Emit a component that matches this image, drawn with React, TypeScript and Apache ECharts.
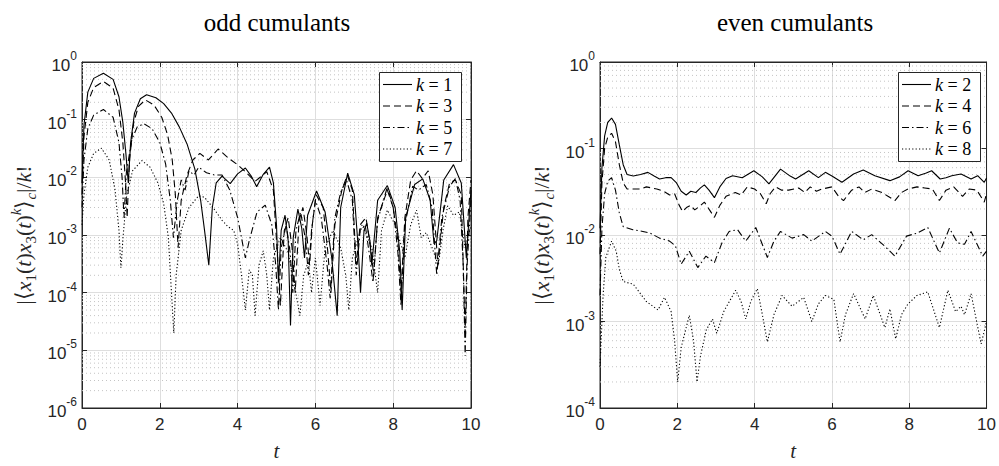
import React, { useEffect, useRef } from "react";
import * as echarts from "echarts";

const oddTitle = "odd cumulants";
const evenTitle = "even cumulants";
const oddNames = ["k = 1", "k = 3", "k = 5", "k = 7"];
const evenNames = ["k = 2", "k = 4", "k = 6", "k = 8"];
const xTicks = [0, 2, 4, 6, 8, 10];

const k1: [number, number][] = [
  [0, 0.008], [0.05, 0.08], [0.15, 0.3], [0.3, 0.52], [0.55, 0.64], [0.8, 0.5], [0.95, 0.25], [1.05, 0.09],
  [1.13, 0.025], [1.19, 0.008], [1.25, 0.04], [1.35, 0.13], [1.5, 0.23], [1.66, 0.27], [1.9, 0.24], [2.1, 0.19],
  [2.3, 0.13], [2.5, 0.075], [2.7, 0.038], [2.9, 0.014], [3.05, 0.004], [3.15, 0.0012], [3.26, 0.0003], [3.35, 0.003],
  [3.45, 0.008], [3.6, 0.0105], [3.81, 0.0078], [4.0, 0.0115], [4.2, 0.0145], [4.35, 0.0105], [4.49, 0.0069],
  [4.65, 0.011], [4.82, 0.015], [4.92, 0.008], [5.0, 0.0015], [5.05, 0.00015], [5.12, 0.0012], [5.22, 0.0022],
  [5.3, 0.0008], [5.36, 0.000027], [5.43, 0.0009], [5.55, 0.0028], [5.65, 0.0013], [5.72, 0.0004], [5.8, 0.0022],
  [6.03, 0.0058], [6.25, 0.0025], [6.42, 0.0004], [6.56, 0.00004], [6.65, 0.003], [6.83, 0.0118], [7.0, 0.005],
  [7.1, 0.0006], [7.16, 0.0001], [7.25, 0.0012], [7.32, 0.0016], [7.4, 0.0008], [7.45, 0.0003], [7.6, 0.004],
  [7.85, 0.0072], [8.05, 0.003], [8.17, 0.0005], [8.23, 0.00005], [8.32, 0.002], [8.55, 0.0075], [8.76, 0.0094],
  [8.95, 0.004], [9.05, 0.0007], [9.12, 0.0008], [9.3, 0.009], [9.55, 0.0166], [9.75, 0.008], [9.88, 0.0004],
  [9.95, 0.002], [10, 0.006],
];
const k3: [number, number][] = [
  [0, 0.005], [0.05, 0.05], [0.15, 0.2], [0.3, 0.36], [0.55, 0.46], [0.8, 0.35], [0.95, 0.15], [1.05, 0.04],
  [1.12, 0.008], [1.16, 0.002], [1.22, 0.02], [1.33, 0.09], [1.45, 0.17], [1.63, 0.22], [1.85, 0.18], [2.05, 0.11],
  [2.2, 0.055], [2.32, 0.02], [2.4, 0.005], [2.47, 0.0006], [2.55, 0.004], [2.7, 0.011], [2.85, 0.02], [3.03, 0.026],
  [3.25, 0.02], [3.5, 0.031], [3.75, 0.022], [4.0, 0.0165], [4.2, 0.0125], [4.45, 0.0085], [4.75, 0.0125],
  [4.92, 0.006], [5.0, 0.0008], [5.1, 0.00006], [5.2, 0.0012], [5.3, 0.002], [5.4, 0.0006], [5.48, 0.0001],
  [5.58, 0.0018], [5.68, 0.003], [5.78, 0.001], [5.85, 0.0003], [5.92, 0.0015], [6.02, 0.005], [6.2, 0.003],
  [6.32, 0.0005], [6.4, 0.0001], [6.5, 0.0015], [6.68, 0.006], [6.82, 0.011], [6.95, 0.006], [7.05, 0.0003],
  [7.15, 0.0015], [7.3, 0.002], [7.42, 0.0006], [7.5, 0.0002], [7.6, 0.002], [7.85, 0.006], [8.0, 0.003],
  [8.12, 0.0008], [8.2, 0.0001], [8.3, 0.002], [8.45, 0.009], [8.6, 0.013], [8.75, 0.0095], [8.9, 0.013],
  [9.02, 0.005], [9.15, 0.0003], [9.3, 0.003], [9.45, 0.008], [9.6, 0.009], [9.75, 0.005], [9.85, 0.00002],
  [9.92, 0.002], [10, 0.009],
];
const k5: [number, number][] = [
  [0, 0.003], [0.05, 0.02], [0.15, 0.07], [0.3, 0.12], [0.55, 0.15], [0.8, 0.11], [0.95, 0.04], [1.03, 0.01],
  [1.08, 0.002], [1.14, 0.012], [1.28, 0.045], [1.42, 0.075], [1.59, 0.085], [1.8, 0.07], [2.0, 0.04], [2.15, 0.017],
  [2.27, 0.004], [2.35, 0.0009], [2.45, 0.004], [2.55, 0.009], [2.65, 0.006], [2.75, 0.013], [2.88, 0.011],
  [3.0, 0.015], [3.2, 0.012], [3.4, 0.011], [3.6, 0.011], [3.8, 0.006], [4.0, 0.002], [4.2, 0.0004], [4.3, 0.0008],
  [4.5, 0.0025], [4.71, 0.0033], [4.88, 0.0015], [4.98, 0.0003], [5.05, 0.00005], [5.12, 0.0006], [5.25, 0.0015],
  [5.35, 0.0005], [5.42, 0.0001], [5.5, 0.0012], [5.62, 0.0025], [5.75, 0.0008], [5.82, 0.0002], [5.9, 0.0012],
  [6.0, 0.004], [6.15, 0.002], [6.3, 0.0003], [6.38, 0.00008], [6.5, 0.002], [6.65, 0.0055], [6.8, 0.009],
  [6.95, 0.004], [7.05, 0.0002], [7.15, 0.0012], [7.28, 0.0015], [7.4, 0.0004], [7.48, 0.00015], [7.6, 0.0018],
  [7.85, 0.0068], [8.0, 0.003], [8.12, 0.0005], [8.2, 0.00006], [8.3, 0.0015], [8.5, 0.007], [8.65, 0.006],
  [8.85, 0.0075], [9.0, 0.003], [9.12, 0.0002], [9.25, 0.002], [9.45, 0.007], [9.6, 0.0095], [9.72, 0.004],
  [9.8, 0.0003], [9.85, 0.000008], [9.9, 0.0003], [10, 0.004],
];
const k7: [number, number][] = [
  [0, 0.0015], [0.05, 0.005], [0.15, 0.015], [0.3, 0.026], [0.5, 0.032], [0.7, 0.02], [0.85, 0.006], [0.95, 0.0012],
  [1.0, 0.00027], [1.06, 0.001], [1.15, 0.005], [1.3, 0.013], [1.54, 0.0195], [1.75, 0.015], [1.95, 0.008],
  [2.1, 0.0035], [2.22, 0.0009], [2.3, 0.0001], [2.36, 0.00002], [2.42, 0.0002], [2.55, 0.0012], [2.75, 0.003],
  [3.0, 0.0048], [3.15, 0.0045], [3.4, 0.0028], [3.6, 0.0018], [3.75, 0.0014], [3.9, 0.0012], [4.0, 0.0007],
  [4.1, 0.0002], [4.2, 0.00005], [4.3, 0.00025], [4.38, 0.0002], [4.45, 0.00004], [4.55, 0.0003], [4.66, 0.00053],
  [4.75, 0.0002], [4.82, 0.00005], [4.92, 0.0004], [5.1, 0.0009], [5.3, 0.0005], [5.45, 0.00015], [5.6, 0.00004],
  [5.7, 0.0002], [5.82, 0.00035], [5.9, 0.0001], [6.0, 0.0004], [6.12, 0.00006], [6.25, 0.0006], [6.45, 0.0012],
  [6.65, 0.0006], [6.78, 0.0002], [6.86, 0.00005], [6.95, 0.0004], [7.2, 0.0015], [7.45, 0.0006], [7.6, 0.0001],
  [7.7, 0.0012], [7.85, 0.0027], [8.05, 0.0015], [8.3, 0.0004], [8.45, 0.0015], [8.6, 0.0027], [8.72, 0.0009],
  [8.85, 0.0011], [9.0, 0.0006], [9.16, 0.0003], [9.28, 0.0012], [9.4, 0.0032], [9.55, 0.0022], [9.7, 0.0025],
  [9.85, 0.0006], [10, 0.0015],
];

const k2: [number, number][] = [
  [0, 0.012], [0.05, 0.06], [0.12, 0.14], [0.2, 0.2], [0.3, 0.225], [0.4, 0.19], [0.5, 0.11], [0.6, 0.065],
  [0.7, 0.05], [0.86, 0.048], [1.05, 0.05], [1.24, 0.053], [1.4, 0.048], [1.54, 0.0445], [1.7, 0.046],
  [1.84, 0.046], [1.98, 0.04], [2.1, 0.032], [2.23, 0.029], [2.35, 0.032], [2.48, 0.031], [2.6, 0.035],
  [2.7, 0.038], [2.82, 0.033], [2.96, 0.027], [3.1, 0.036], [3.26, 0.045], [3.43, 0.0485], [3.68, 0.046],
  [3.98, 0.0553], [4.2, 0.047], [4.37, 0.039], [4.67, 0.0578], [4.92, 0.048], [5.06, 0.0444], [5.4, 0.0553],
  [5.65, 0.046], [5.83, 0.053], [6.0, 0.048], [6.26, 0.0407], [6.56, 0.0507], [6.81, 0.0563], [7.11, 0.0485],
  [7.5, 0.0425], [7.75, 0.047], [7.97, 0.0553], [8.23, 0.0485], [8.44, 0.052], [8.58, 0.0553], [8.8, 0.0444],
  [8.95, 0.046], [9.1, 0.0485], [9.34, 0.0507], [9.6, 0.0444], [9.77, 0.0485], [9.94, 0.0407], [10, 0.0455],
];
const k4: [number, number][] = [
  [0, 0.006], [0.05, 0.04], [0.12, 0.1], [0.2, 0.135], [0.3, 0.15], [0.4, 0.12], [0.5, 0.065], [0.6, 0.04],
  [0.7, 0.034], [0.86, 0.034], [1.05, 0.034], [1.2, 0.036], [1.47, 0.034], [1.65, 0.032], [1.8, 0.029],
  [1.93, 0.03], [2.05, 0.022], [2.14, 0.0187], [2.25, 0.021], [2.35, 0.022], [2.45, 0.0195], [2.55, 0.021],
  [2.7, 0.024], [2.85, 0.019], [2.96, 0.016], [3.1, 0.022], [3.26, 0.028], [3.5, 0.031], [3.65, 0.029],
  [3.81, 0.036], [4.0, 0.034], [4.15, 0.03], [4.3, 0.023], [4.4, 0.03], [4.54, 0.036], [4.7, 0.033], [4.88, 0.033],
  [5.14, 0.035], [5.3, 0.031], [5.44, 0.036], [5.6, 0.032], [5.74, 0.034], [6.0, 0.036], [6.17, 0.028],
  [6.3, 0.025], [6.51, 0.033], [6.7, 0.036], [6.85, 0.031], [7.03, 0.034], [7.3, 0.031], [7.45, 0.028],
  [7.63, 0.025], [7.8, 0.031], [7.97, 0.034], [8.2, 0.036], [8.4, 0.035], [8.6, 0.034], [8.78, 0.025],
  [8.95, 0.033], [9.15, 0.036], [9.38, 0.028], [9.55, 0.034], [9.75, 0.033], [9.94, 0.024], [10, 0.03],
];
const k6: [number, number][] = [
  [0, 0.002], [0.05, 0.012], [0.12, 0.03], [0.2, 0.042], [0.3, 0.046], [0.4, 0.033], [0.5, 0.018], [0.6, 0.0125],
  [0.85, 0.0115], [1.11, 0.011], [1.3, 0.0105], [1.54, 0.0092], [1.8, 0.0085], [1.95, 0.0075], [2.1, 0.0046],
  [2.31, 0.0065], [2.53, 0.0042], [2.74, 0.0057], [2.96, 0.0048], [3.15, 0.008], [3.34, 0.011], [3.56, 0.0115],
  [3.77, 0.0085], [4.03, 0.0122], [4.33, 0.0055], [4.5, 0.0085], [4.67, 0.011], [4.97, 0.0092], [5.27, 0.0101],
  [5.48, 0.0085], [5.83, 0.011], [6.0, 0.0097], [6.21, 0.006], [6.51, 0.011], [6.81, 0.0088], [7.03, 0.0101],
  [7.37, 0.0074], [7.63, 0.0057], [7.93, 0.0097], [8.2, 0.0105], [8.48, 0.0122], [8.78, 0.0062], [9.04, 0.012],
  [9.25, 0.0081], [9.43, 0.0078], [9.6, 0.011], [9.9, 0.0057], [10, 0.0065],
];
const k8: [number, number][] = [
  [0, 0.0003], [0.08, 0.002], [0.15, 0.0055], [0.3, 0.0085], [0.42, 0.0065], [0.5, 0.004], [0.6, 0.0029],
  [0.86, 0.0027], [1.2, 0.0017], [1.5, 0.00136], [1.67, 0.0019], [1.84, 0.0013], [1.93, 0.0006], [2.01, 0.0002],
  [2.1, 0.0005], [2.31, 0.00118], [2.42, 0.0006], [2.51, 0.0002], [2.6, 0.0004], [2.75, 0.0008], [2.91, 0.00107],
  [3.02, 0.00073], [3.2, 0.0013], [3.51, 0.0023], [3.65, 0.0017], [3.77, 0.00107], [3.9, 0.0017], [4.07, 0.0024],
  [4.2, 0.0012], [4.33, 0.00058], [4.5, 0.0012], [4.71, 0.002], [4.97, 0.0015], [5.27, 0.0019], [5.48, 0.001],
  [5.65, 0.0016], [5.83, 0.002], [6.05, 0.0018], [6.21, 0.00058], [6.35, 0.0012], [6.56, 0.0021], [6.86, 0.00107],
  [7.07, 0.002], [7.37, 0.00085], [7.5, 0.0014], [7.65, 0.00063], [7.8, 0.0012], [7.97, 0.0016], [8.2, 0.002],
  [8.48, 0.0022], [8.78, 0.00085], [9.0, 0.0023], [9.2, 0.0013], [9.34, 0.0015], [9.43, 0.0012], [9.6, 0.0021],
  [9.86, 0.00055], [10, 0.001],
];

const oddData = [k1, k3, k5, k7];
const evenData = [k2, k4, k6, k8];
const dashStyles: any[] = ["solid", [7, 4], [7, 3, 1.5, 3], [1.2, 2.2]];
const dashArrays: any[] = [null, [7, 4], [7, 3, 1.5, 3], [1.2, 2.2]];

const AX = "#262626";
const SERIF = "'Liberation Serif', 'Times New Roman', serif";
const SANS = "'Liberation Sans', Arial, sans-serif";

function minorValues(minExp: number, maxExp: number) {
  const out: number[] = [];
  for (let e = minExp; e < maxExp; e++) {
    for (let m = 2; m <= 9; m++) out.push(m * Math.pow(10, e));
  }
  return out;
}

const yNameText =
  "{r||⟨}{i|x}{sb|1}{r|(}{i|t}{r|)}{i|x}{sb|3}{r|(}{i|t}{r|)}{sp|k}{r|⟩}{sbi|c}{r||/}{i|k}{r|!}";

function App() {
  const ref = useRef<HTMLDivElement>(null);
  useEffect(() => {
    const chart = echarts.init(ref.current!, null, { renderer: "svg" });

    const gridLeft = [82, 600];
    const yMinExp = [-6, -4];

    const yNameRich = {
      r: { fontFamily: SERIF, fontSize: 22, color: AX, lineHeight: 30 },
      i: { fontFamily: SERIF, fontStyle: "italic", fontSize: 22, color: AX, lineHeight: 30 },
      sb: { fontFamily: SERIF, fontSize: 15, color: AX, lineHeight: 15, verticalAlign: "bottom" },
      sbi: { fontFamily: SERIF, fontStyle: "italic", fontSize: 15, color: AX, lineHeight: 15, verticalAlign: "bottom" },
      sp: { fontFamily: SERIF, fontStyle: "italic", fontSize: 15, color: AX, lineHeight: 15, verticalAlign: "top" },
    };

    const xAxis: any[] = [];
    const yAxis: any[] = [];
    [0, 1].forEach((g) => {
      xAxis.push({
        gridIndex: g, type: "value", min: 0, max: 10, interval: 2, position: "bottom",
        axisLine: { show: true, onZero: false, lineStyle: { color: AX, width: 1 } },
        axisTick: { inside: true, length: 5, lineStyle: { color: AX } },
        axisLabel: { fontSize: 17, color: AX, fontFamily: SANS, margin: 8,
          formatter: (v: number) => (xTicks.includes(v) ? String(v) : "") },
        splitLine: { show: true, lineStyle: { color: "#dedede", width: 1 } },
        name: "t", nameLocation: "middle", nameGap: 32,
        nameTextStyle: { fontFamily: SERIF, fontStyle: "italic", fontSize: 21, color: AX },
      });
      xAxis.push({
        gridIndex: g, type: "value", min: 0, max: 10, interval: 2, position: "top",
        axisLine: { show: true, onZero: false, lineStyle: { color: AX, width: 1 } },
        axisTick: { inside: true, length: 5, lineStyle: { color: AX } },
        axisLabel: { show: false }, splitLine: { show: false },
      });
      yAxis.push({
        gridIndex: g, type: "log", logBase: 10, min: Math.pow(10, yMinExp[g]), max: 1,
        splitNumber: -yMinExp[g], position: "left",
        axisLine: { show: true, onZero: false, lineStyle: { color: AX, width: 1 } },
        axisTick: { inside: true, length: 5, lineStyle: { color: AX } },
        axisLabel: {
          margin: 5,
          formatter: (v: number) => `{b|10}{s|${Math.round(Math.log10(v))}}`,
          rich: {
            b: { fontFamily: SANS, fontSize: 17, color: AX, lineHeight: 24, verticalAlign: "bottom" },
            s: { fontFamily: SANS, fontSize: 12, color: AX, lineHeight: 16, verticalAlign: "top" },
          },
        },
        splitLine: { show: true, lineStyle: { color: "#dedede", width: 1 } },
        name: yNameText, nameLocation: "middle", nameRotate: 90, nameGap: 44,
        nameTextStyle: { rich: yNameRich },
      });
      yAxis.push({
        gridIndex: g, type: "log", logBase: 10, min: Math.pow(10, yMinExp[g]), max: 1,
        splitNumber: -yMinExp[g], position: "right",
        axisLine: { show: true, onZero: false, lineStyle: { color: AX, width: 1 } },
        axisTick: { inside: true, length: 5, lineStyle: { color: AX } },
        axisLabel: { show: false }, splitLine: { show: false },
      });
    });

    const series: any[] = [];
    [0, 1].forEach((g) => {
      minorValues(yMinExp[g], 0).forEach((v) => {
        series.push({
          type: "line", xAxisIndex: g * 2, yAxisIndex: g * 2, data: [[0, v], [10, v]],
          symbol: "none", silent: true, z: 1,
          lineStyle: { type: [1, 3], color: "#c4c4c4", width: 1 },
          emphasis: { disabled: true },
        });
      });
    });
    const addLines = (g: number, names: string[], datas: [number, number][][]) => {
      names.forEach((n, i) => {
        series.push({
          name: n, type: "line", xAxisIndex: g * 2, yAxisIndex: g * 2, data: datas[i],
          symbol: "none", showSymbol: false, z: 3,
          lineStyle: { color: "#000", width: 1.1, type: dashStyles[i] },
          itemStyle: { color: "#000" },
        });
      });
    };
    addLines(0, oddNames, oddData);
    addLines(1, evenNames, evenData);

    // Legends drawn as graphic elements
    const legendGraphic = (left: number, names: string[]) => {
      const top = 72;
      const w = 82;
      const h = 89;
      const els: any[] = [
        { type: "rect", z: 10, shape: { x: left + 0.5, y: top + 0.5, width: w, height: h },
          style: { fill: "#fff", stroke: AX, lineWidth: 1 } },
      ];
      names.forEach((n, i) => {
        const cy = top + 12.5 + i * 21.5;
        els.push({
          type: "line", z: 11,
          shape: { x1: left + 4, y1: cy, x2: left + 33, y2: cy },
          style: { stroke: "#000", lineWidth: 1.1, lineDash: dashArrays[i] },
        });
        els.push({
          type: "text", z: 11, x: left + 37, y: cy,
          style: {
            text: `{i|k} = ${n.slice(4)}`, fontFamily: SERIF, fontSize: 18, fill: "#000",
            verticalAlign: "middle", align: "left",
            rich: { i: { fontFamily: SERIF, fontStyle: "italic", fontSize: 18, fill: "#000" } },
          },
        });
      });
      return els;
    };

    const option: any = {
      animation: false,
      backgroundColor: "#fff",
      grid: gridLeft.map((l) => ({
        left: l, top: 62, width: 389, height: 350, show: true, borderColor: AX, borderWidth: 1,
        backgroundColor: "transparent",
      })),
      xAxis, yAxis, series,
      graphic: [
        { type: "text", x: 277, y: 22, style: { text: oddTitle, align: "center", verticalAlign: "middle",
          font: `25px ${SERIF}`, fill: "#000" } },
        { type: "text", x: 795, y: 22, style: { text: evenTitle, align: "center", verticalAlign: "middle",
          font: `25px ${SERIF}`, fill: "#000" } },
        ...legendGraphic(379, oddNames),
        ...legendGraphic(898, evenNames),
      ],
    };
    chart.setOption(option);
    return () => chart.dispose();
  }, []);
  return (
    <div
      ref={ref}
      style={{ position: "absolute", left: 0, top: 0, width: 999, height: 466, background: "#fff" }}
    />
  );
}

export default App;
